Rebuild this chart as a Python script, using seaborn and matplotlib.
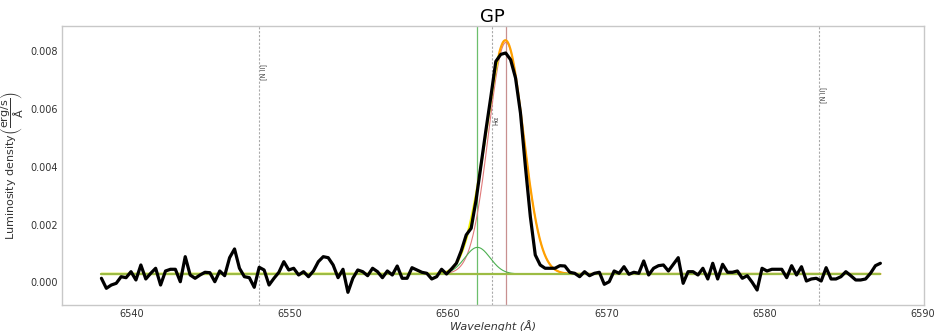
import numpy as np
import pandas as pd
import matplotlib
matplotlib.use("Agg")
import matplotlib.pyplot as plt
import seaborn as sns

# Observed spectrum around H-alpha (uniform wavelength grid)
wl_start = 6538.09
wl_end = 6587.31
flux = [
    0.000139, -0.000208, -0.000094, -0.000035, 0.000194, 0.000160, 0.000368, 0.00008, 0.0006, 0.000115,
    0.000312, 0.000486, -0.000094, 0.000392, 0.000451, 0.000451, 0.00002, 0.000888, 0.000253, 0.000139,
    0.000253, 0.000347, 0.000333, 0.00002, 0.000392, 0.000229, 0.000853, 0.001155, 0.000486, 0.000194,
    0.00016, -0.000173, 0.00052, 0.000427,
    -0.000094, 0.000139, 0.000347, 0.000715, 0.000427, 0.000486, 0.000253, 0.000368, 0.000194, 0.000392,
    0.000715, 0.000888, 0.000853, 0.0006, 0.00016, 0.000451, -0.000347, 0.000139, 0.000427, 0.000368,
    0.000229, 0.000486, 0.000368, 0.00016, 0.000392, 0.000253, 0.000565, 0.000139, 0.000139, 0.000506,
    0.000427, 0.000347, 0.000312, 0.000115, 0.000194,
    0.000451, 0.000288, 0.000461, 0.000659, 0.001096, 0.001641, 0.001873, 0.002855, 0.004069, 0.005283,
    0.006439, 0.007652, 0.007896, 0.007944, 0.007712, 0.007077, 0.005863, 0.00401, 0.002276, 0.000947,
    0.0006, 0.000486, 0.000486, 0.000486, 0.000576, 0.000565, 0.000347, 0.000312,
    0.000194, 0.000368, 0.000229, 0.000312, 0.000347, -0.000069, 0.00002, 0.000392, 0.000312, 0.000541,
    0.000278, 0.000347, 0.000312, 0.000739, 0.000253, 0.000486, 0.000576, 0.0006, 0.000392, 0.000624,
    0.000853, -0.000035, 0.000368, 0.000368, 0.000253, 0.000486, 0.000115, 0.000659, 0.000115, 0.000624,
    0.000347, 0.000347,
    0.000392, 0.000139, 0.000229, 0.0, -0.000267, 0.000486, 0.000392, 0.000451, 0.000451, 0.000451,
    0.00016, 0.000576, 0.000253, 0.000541, 0.000045, 0.000115, 0.000139, 0.000045, 0.000506, 0.000115,
    0.000115, 0.000194, 0.000368, 0.000229, 0.00008, 0.00008, 0.000115, 0.000312, 0.000576, 0.000659,
]
wavelength = np.linspace(wl_start, wl_end, len(flux))

# Gaussian fit: continuum level and the two components (center, amplitude, sigma)
continuum = 0.00029
narrow_fit = [6563.65, 0.00802, 1.1]
broad_fit = [6561.85, 0.00092, 0.8]
split_wl = 6563.2

# Reference line positions
line_names = ["[N II]", "H\u03b1", "[N II]"]
line_wl = [6548.05, 6562.8, 6583.45]
line_label_y = [0.0073, 0.0056, 0.0065]


def gauss(x, p):
    c, a, s = p
    return a * np.exp(-0.5 * ((x - c) / s) ** 2)


sns.set_style("white")
plt.rcParams["font.family"] = ["DejaVu Sans"]

fig = plt.figure(figsize=(9.34, 3.31), dpi=100)
ax = fig.add_axes([0.0664, 0.0785, 0.9226, 0.843])

grid = np.linspace(wl_start, wl_end, 2000)
narrow = gauss(grid, narrow_fit) + continuum
broad = gauss(grid, broad_fit) + continuum
total = gauss(grid, narrow_fit) + gauss(grid, broad_fit) + continuum
blue = grid <= split_wl
red = grid >= split_wl

# Reference lines
for name, w, ly in zip(line_names, line_wl, line_label_y):
    ax.axvline(w, color="#aaaaaa", lw=0.8, ls=(0, (2, 1.5)), zorder=1)
    ax.text(w + 0.05, ly, name, rotation=90, fontsize=4.8, color="#444444",
            ha="left", va="center")
ax.axvline(broad_fit[0], color="#6cbf6c", lw=0.9, zorder=1)
ax.axvline(narrow_fit[0], color="#c89090", lw=0.9, zorder=1)

# Fitted model curves
fit_df = pd.DataFrame({"wl": grid, "narrow": narrow, "broad": broad, "total": total})
sns.lineplot(data=fit_df, x="wl", y="narrow", color="#e07a7a", lw=0.8, ax=ax, zorder=2)
sns.lineplot(data=fit_df[blue], x="wl", y="total", color="#f2f200", lw=1.7, ax=ax, zorder=2)
sns.lineplot(data=fit_df[red], x="wl", y="total", color="#ffa000", lw=1.6, ax=ax, zorder=2)
sns.lineplot(data=fit_df, x="wl", y="broad", color="#4caf50", lw=0.8, ax=ax, zorder=2)
ax.plot([wl_start, wl_end], [continuum, continuum], color="#9cbc44", lw=1.6, zorder=2.5)

# Observed spectrum
spec_df = pd.DataFrame({"wl": wavelength, "flux": flux})
sns.lineplot(data=spec_df, x="wl", y="flux", color="black", lw=2.3, ax=ax, zorder=3)

ax.set_xlim(6535.6, 6590.05)
ax.set_ylim(-0.000787, 0.00888)
ax.set_xticks([6540, 6550, 6560, 6570, 6580, 6590])
ax.set_yticks([0.0, 0.002, 0.004, 0.006, 0.008])
ax.yaxis.set_major_formatter(matplotlib.ticker.FormatStrFormatter("%.3f"))
ax.tick_params(labelsize=7, length=0, pad=3, labelcolor="#333333")
for sp in ax.spines.values():
    sp.set_color("#c8c8c8")
    sp.set_linewidth(1.0)

ax.set_title("GP", fontsize=13, pad=3, color="black")
ax.set_xlabel("Wavelenght (\u00c5)", fontsize=8, fontstyle="italic", labelpad=1,
              color="#333333")
ax.set_ylabel(r"Luminosity density$\left(\dfrac{\mathrm{erg/s}}{\mathrm{\AA}}\right)$",
              fontsize=8, labelpad=3, color="#333333")

fig.savefig("out.png", dpi=100)
